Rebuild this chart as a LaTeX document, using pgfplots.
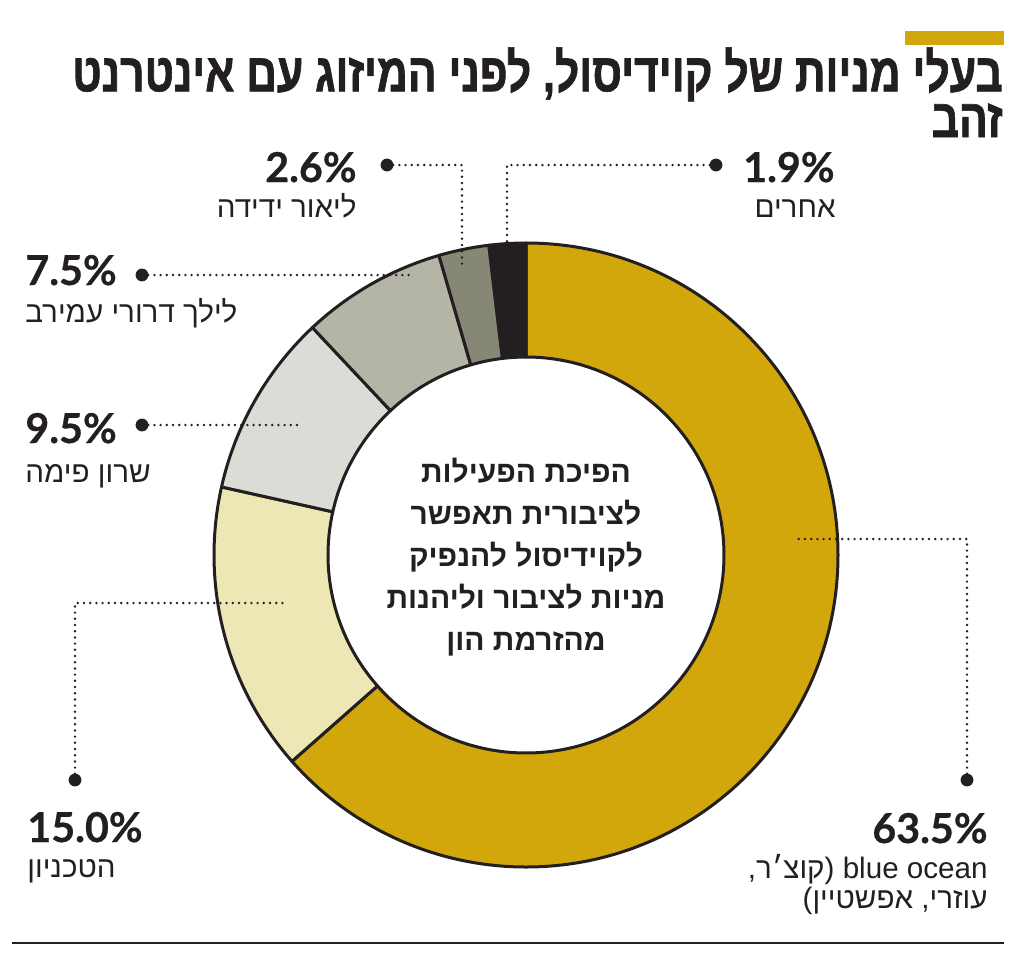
\documentclass[border=0pt]{standalone}
\usepackage{pgfplots}
\pgfplotsset{compat=1.18}
\usepackage{fontspec}
\TeXXeTstate=1
\setmainfont{Liberation Sans}
\newfontfamily\heb[Script=Hebrew]{Liberation Sans}
\newfontfamily\titlefont[Script=Hebrew,FakeStretch=0.79,BoldFeatures={FakeBold=1.2}]{Liberation Sans}
\newfontfamily\numfont[BoldFeatures={FakeBold=0.6}]{Lato}
\definecolor{ink}{HTML}{231F20}
\definecolor{gold}{HTML}{D2A70B}
\definecolor{cream}{HTML}{EDE7B6}
\definecolor{lgray}{HTML}{DCDCD7}
\definecolor{mgray}{HTML}{B4B4A7}
\definecolor{dgray}{HTML}{878776}
\newcommand\slice[3]{\filldraw[fill=#1, draw=ink, line width=1.5pt, line join=round]
  (axis cs:526,555) ++(#2:156pt) arc[start angle=#2, end angle=#3, radius=156pt]
  -- ++(#3+180:57pt) arc[start angle=#3, end angle=#2, radius=99pt] -- cycle;}
\newcommand\numf{\numfont\bfseries\fontsize{20.6pt}{25pt}\selectfont}
\newcommand\labf{\heb\fontsize{14.8pt}{17pt}\selectfont}
\begin{document}
\begin{tikzpicture}
% shares (percent), clockwise from the top
\pgfmathsetmacro\aA{90}
\pgfmathsetmacro\aB{\aA-63.5*3.6}
\pgfmathsetmacro\aC{\aB-15.0*3.6}
\pgfmathsetmacro\aD{\aC-9.5*3.6}
\pgfmathsetmacro\aE{\aD-7.5*3.6}
\pgfmathsetmacro\aF{\aE-2.6*3.6}
\pgfmathsetmacro\aG{\aF-1.9*3.6}
\begin{axis}[x=0.5pt, y=0.5pt, xmin=0, xmax=1024, ymin=0, ymax=954,
  y dir=reverse, hide axis, clip=false]
\slice{gold}{\aA}{\aB}
\slice{cream}{\aB}{\aC}
\slice{lgray}{\aC}{\aD}
\slice{mgray}{\aD}{\aE}
\slice{dgray}{\aE}{\aF}
\slice{ink}{\aF}{\aG}
% leader lines
\addplot[ink, line width=1.35pt, line cap=round, dash pattern=on 0pt off 3.1pt] coordinates {(716,165) (507,165) (507,243)};
\addplot[ink, line width=1.35pt, line cap=round, dash pattern=on 0pt off 3.1pt] coordinates {(387,165) (462,165) (462,268)};
\addplot[ink, line width=1.35pt, line cap=round, dash pattern=on 0pt off 3.1pt] coordinates {(142,275) (413,275)};
\addplot[ink, line width=1.35pt, line cap=round, dash pattern=on 0pt off 3.1pt] coordinates {(142,425) (302,425)};
\addplot[ink, line width=1.35pt, line cap=round, dash pattern=on 0pt off 3.1pt] coordinates {(75,780) (75,603) (285,603)};
\addplot[ink, line width=1.35pt, line cap=round, dash pattern=on 0pt off 3.1pt] coordinates {(967,780) (967,539) (797,539)};
\addplot[only marks, mark=*, mark size=3pt, ink, mark options={fill=ink, draw=ink}] coordinates {(716,165) (387,165) (142,275) (142,425) (75,780) (967,780)};
% gold bar and rule
\fill[gold] (axis cs:905,31) rectangle (axis cs:1004,45);
\draw[ink, line width=1.2pt] (axis cs:12,943) -- (axis cs:1004,943);
% title (two lines in one node)
\node[anchor=base east, inner sep=0pt, text=ink, align=right, font=\titlefont\bfseries\fontsize{27pt}{21.5pt}\selectfont] at (axis cs:1003,137)
  {\beginR בעלי מניות של קוידיסול\kern0pt, לפני המיזוג עם אינטרנט\endR\\ \beginR זהב\endR};
% labels
\node[anchor=base east, inner sep=0pt, text=ink, font=\numf] at (axis cs:835,182) {1.9\%};
\node[anchor=base east, inner sep=0pt, text=ink, font=\labf] at (axis cs:836,217) {\beginR אחרים\endR};
\node[anchor=base east, inner sep=0pt, text=ink, font=\numf] at (axis cs:357,182) {2.6\%};
\node[anchor=base east, inner sep=0pt, text=ink, font=\labf] at (axis cs:357,217) {\beginR ליאור ידידה\endR};
\node[anchor=base west, inner sep=0pt, text=ink, font=\numf] at (axis cs:25,285) {7.5\%};
\node[anchor=base west, inner sep=0pt, text=ink, font=\labf] at (axis cs:25,322) {\beginR לילך דרורי עמירב\endR};
\node[anchor=base west, inner sep=0pt, text=ink, font=\numf] at (axis cs:25,443) {9.5\%};
\node[anchor=base west, inner sep=0pt, text=ink, font=\labf] at (axis cs:25,482) {\beginR שרון פימה\endR};
\node[anchor=base west, inner sep=0pt, text=ink, font=\numf] at (axis cs:27,842) {15.0\%};
\node[anchor=base west, inner sep=0pt, text=ink, font=\labf] at (axis cs:27,877) {\beginR הטכניון\endR};
\node[anchor=base east, inner sep=0pt, text=ink, font=\numf] at (axis cs:988,843) {63.5\%};
\node[anchor=base east, inner sep=0pt, text=ink, font=\labf] at (axis cs:988,878) {\beginR\beginL blue ocean\endL\ (\kern0pt קוצ׳ר\kern0pt,\endR};
\node[anchor=base east, inner sep=0pt, text=ink, font=\labf] at (axis cs:988,908) {\beginR עוזרי\kern0pt, אפשטיין\kern0pt)\endR};
% centre text
\node[align=center, inner sep=0pt, text=ink, font=\heb\bfseries\fontsize{15pt}{21pt}\selectfont] at (axis cs:526,557)
  {\beginR הפיכת הפעילות\endR\\ \beginR לציבורית תאפשר\endR\\ \beginR לקוידיסול להנפיק\endR\\ \beginR מניות לציבור וליהנות\endR\\ \beginR מהזרמת הון\endR};
\end{axis}
\path (current axis.south west) rectangle (current axis.north east);
\end{tikzpicture}
\end{document}
